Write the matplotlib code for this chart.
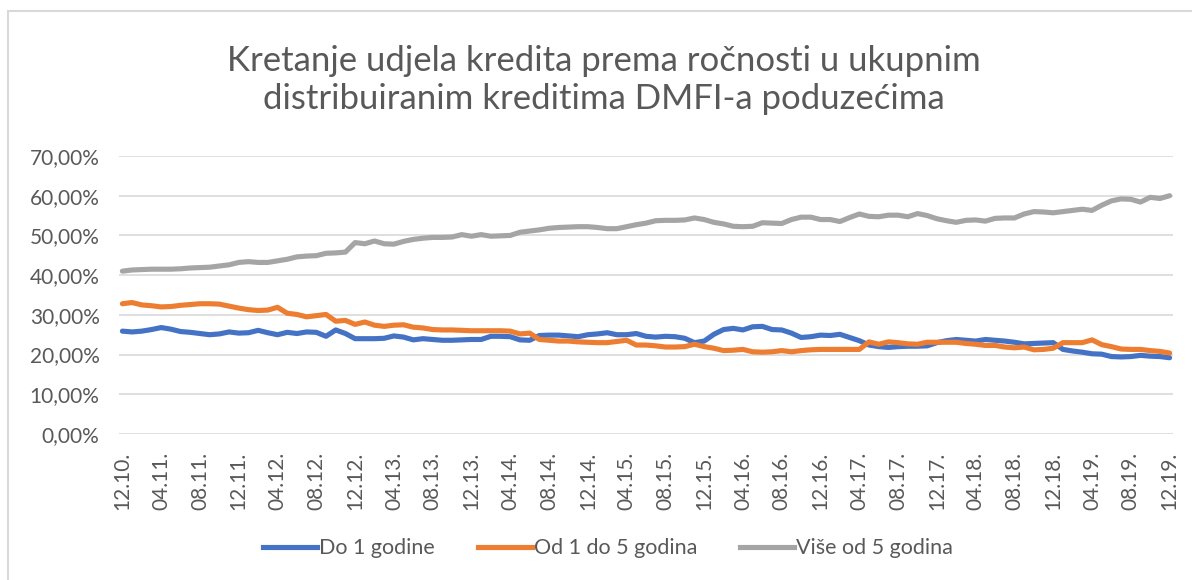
import matplotlib.pyplot as plt
from matplotlib.lines import Line2D

# months 12.10 .. 12.19 (monthly), shares in %
months = []
for i in range(109):
    m = (12 + i - 1) % 12 + 1
    y = 10 + (12 + i - 1) // 12
    months.append(f"{m:02d}.{y:02d}.")

do_1 = [25.9, 25.7, 25.9, 26.3, 26.8, 26.4, 25.8, 25.6, 25.3, 25.0,
        25.2, 25.7, 25.4, 25.5, 26.1, 25.5, 25.0, 25.6, 25.3, 25.7,
        25.6, 24.6, 26.2, 25.3, 24.0, 24.0, 24.0, 24.1, 24.7, 24.4,
        23.7, 24.0, 23.8, 23.6, 23.6, 23.7, 23.8, 23.8, 24.6, 24.6,
        24.5, 23.7, 23.6, 24.8, 24.9, 24.9, 24.7, 24.5, 25.0, 25.2,
        25.5, 25.0, 25.0, 25.3, 24.6, 24.4, 24.6, 24.5, 24.1, 23.0,
        23.4, 25.1, 26.3, 26.6, 26.2, 27.0, 27.1, 26.3, 26.2, 25.4,
        24.3, 24.5, 24.9, 24.8, 25.1, 24.3, 23.5, 22.4, 22.0, 21.8,
        22.0, 22.1, 22.1, 22.2, 23.0, 23.5, 23.8, 23.6, 23.4, 23.8,
        23.6, 23.4, 23.1, 22.7, 22.8, 22.9, 23.0, 21.3, 20.9, 20.6,
        20.2, 20.1, 19.5, 19.4, 19.5, 19.8, 19.6, 19.5, 19.2]

od_1_do_5 = [32.8, 33.1, 32.5, 32.3, 32.0, 32.1, 32.4, 32.6, 32.8, 32.8,
             32.7, 32.2, 31.7, 31.3, 31.1, 31.2, 31.9, 30.4, 30.1, 29.5,
             29.8, 30.1, 28.4, 28.6, 27.6, 28.2, 27.4, 27.1, 27.4, 27.5,
             26.9, 26.7, 26.3, 26.2, 26.2, 26.1, 26.0, 26.0, 26.0, 26.0,
             25.9, 25.2, 25.4, 23.8, 23.6, 23.4, 23.4, 23.2, 23.1, 23.0,
             23.0, 23.3, 23.6, 22.4, 22.4, 22.2, 21.9, 21.9, 22.0, 22.6,
             22.0, 21.6, 21.0, 21.1, 21.3, 20.7, 20.6, 20.7, 21.0, 20.7,
             21.0, 21.2, 21.3, 21.3, 21.3, 21.3, 21.3, 23.2, 22.6, 23.2,
             23.0, 22.7, 22.6, 23.1, 23.1, 23.1, 23.1, 22.8, 22.6, 22.3,
             22.3, 21.9, 21.7, 21.9, 21.2, 21.3, 21.6, 23.0, 23.0, 23.0,
             23.7, 22.5, 22.0, 21.4, 21.3, 21.3, 21.0, 20.8, 20.4]

vise_od_5 = [41.0, 41.3, 41.4, 41.5, 41.5, 41.5, 41.6, 41.8, 41.9, 42.0,
             42.3, 42.6, 43.2, 43.4, 43.2, 43.2, 43.6, 44.0, 44.6, 44.8,
             44.9, 45.5, 45.6, 45.8, 48.2, 47.9, 48.6, 47.9, 47.8, 48.5,
             49.0, 49.3, 49.5, 49.5, 49.6, 50.2, 49.8, 50.2, 49.8, 49.9,
             50.0, 50.8, 51.1, 51.4, 51.8, 52.0, 52.1, 52.2, 52.2, 52.0,
             51.7, 51.7, 52.2, 52.7, 53.1, 53.7, 53.8, 53.8, 53.9, 54.4,
             54.0, 53.3, 52.9, 52.3, 52.2, 52.3, 53.2, 53.1, 53.0, 54.0,
             54.6, 54.6, 54.0, 54.0, 53.5, 54.5, 55.4, 54.8, 54.7, 55.1,
             55.1, 54.7, 55.5, 55.0, 54.2, 53.7, 53.3, 53.8, 53.9, 53.6,
             54.3, 54.4, 54.4, 55.4, 56.0, 55.9, 55.7, 56.0, 56.3, 56.6,
             56.3, 57.6, 58.7, 59.2, 59.1, 58.4, 59.6, 59.3, 60.0]

series_names = ["Do 1 godine", "Od 1 do 5 godina", "Više od 5 godina"]
colors = ["#4472C4", "#ED7D31", "#A5A5A5"]
yticks = [0, 10, 20, 30, 40, 50, 60, 70]

plt.rcParams['font.family'] = ['Lato', 'DejaVu Sans']
txt = "#595959"

fig = plt.figure(figsize=(11.92, 5.8), dpi=100)
ax = fig.add_axes([119 / 1192, 1 - 434 / 580, (1173 - 119) / 1192, (434 - 156) / 580])

x = list(range(len(months)))
for vals, name, c in zip([do_1, od_1_do_5, vise_od_5], series_names, colors):
    ax.plot(x, [v / 100 for v in vals], color=c, lw=3.7, label=name,
            solid_joinstyle='round', solid_capstyle='round')

ax.set_ylim(0, 0.7)
ax.set_xlim(-0.35, 108.35)
ax.set_yticks([t / 100 for t in yticks])
ax.set_yticklabels([f"{t},00%" for t in yticks])
ax.set_xticks(x[::4])
ax.set_xticklabels(months[::4], rotation=90)
ax.grid(axis='y', color='#D9D9D9', lw=1.2)
ax.set_axisbelow(True)
for s in ax.spines.values():
    s.set_visible(False)
ax.tick_params(axis='both', length=0, labelsize=15, labelcolor=txt)
ax.tick_params(axis='y', pad=14)
ax.tick_params(axis='x', pad=13)

fig.text(0.507, 0.862, "Kretanje udjela kredita prema ročnosti u ukupnim\ndistribuiranim kreditima DMFI-a poduzećima",
         ha='center', va='center', fontsize=25, color=txt, linespacing=1.22)

handles = [Line2D([], [], color=c, lw=3.7) for c in colors]
fig.legend(handles, series_names, loc='center', bbox_to_anchor=(0.51, 0.055),
           ncol=3, frameon=False, fontsize=15.5, handlelength=2.5,
           handletextpad=0.1, columnspacing=2.0, labelcolor=txt)

# chart area border (top and left visible)
fig.add_artist(Line2D([8 / 1192, 1], [1 - 11 / 580, 1 - 11 / 580], color='#D9D9D9', lw=1.5))
fig.add_artist(Line2D([8 / 1192, 8 / 1192], [0, 1 - 11 / 580], color='#D9D9D9', lw=1.5))

fig.savefig("out.png", dpi=100)
